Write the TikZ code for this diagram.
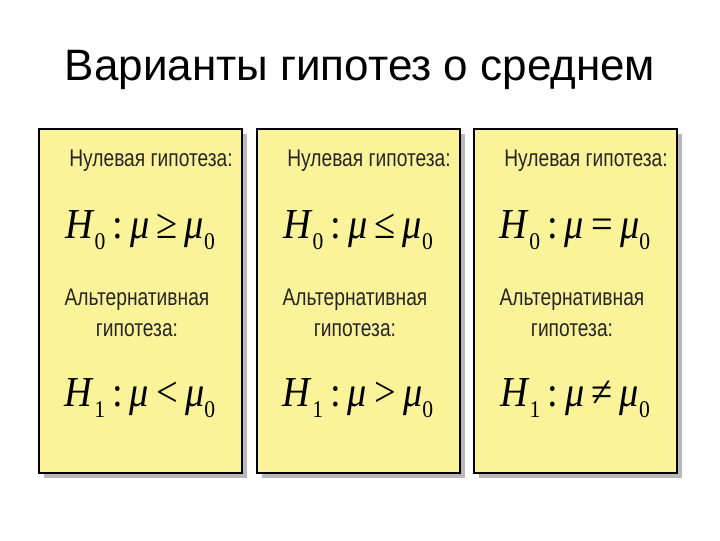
\documentclass[tikz,border=0pt]{standalone}
\usepackage{fontspec}
\setmainfont{Liberation Sans}
\newfontfamily\narrowf[FakeStretch=0.8]{Liberation Sans}
\newfontfamily\tms[FakeStretch=0.9]{Liberation Serif}
\definecolor{pan}{HTML}{FAF39A}
\begin{document}
\begin{tikzpicture}[x=0.75pt,y=-0.75pt,
  panel/.style={fill=pan, draw=black, line width=0.8pt},
  shadow/.style={fill=gray!55, draw=none},
  lbl/.style={font=\narrowf\fontsize{18}{23}\selectfont, align=center, text=black!85},
  frm/.style={font=\tms\fontsize{32}{34}\selectfont}]
\useasboundingbox (0,0) rectangle (720,540);
\node (title) at (360,70) {\fontsize{33}{38}\selectfont Варианты гипотез о среднем};
\newcommand\fml[2]{\textit{H}\raisebox{-0.25em}{\fontsize{18}{18}\selectfont #1}\,:\,\textit{μ}\,#2\,\textit{μ}\raisebox{-0.25em}{\fontsize{18}{18}\selectfont 0}}
\foreach \x/\r/\s [count=\i] in {39/≥/</,257/≤/>/,474/=/≠/}{
  \fill[shadow] (\x+5,134) rectangle (\x+208,478);
  \draw[panel] (\x,129) rectangle (\x+203,473);
  \node[lbl] (n\i) at (\x+112,161) {Нулевая гипотеза:};
  \node[frm] (f\i) at (\x+101,230) {\fml{0}{\r}};
  \node[lbl] (a\i) at (\x+98,313) {Альтернативная\\гипотеза:};
  \node[frm] (g\i) at (\x+101,398) {\fml{1}{\s}};
}
\end{tikzpicture}
\end{document}
